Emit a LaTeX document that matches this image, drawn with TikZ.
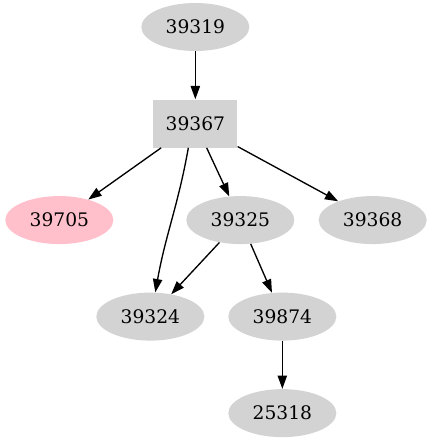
\documentclass[tikz,border=0pt]{standalone}
\usepackage{fontspec}
\setmainfont{DejaVu Serif}
\usepackage{xcolor}
\usepackage{tikz}
\usetikzlibrary{shapes.geometric,arrows.meta,positioning}
\definecolor{nodegray}{HTML}{D3D3D3}
\definecolor{nodepink}{HTML}{FFC0CB}
\tikzset{
  idnode/.style={
    ellipse, draw=none, fill=nodegray,
    minimum width=81pt, minimum height=36pt,
    inner sep=0pt, font=\fontsize{14pt}{16pt}\selectfont},
  idbox/.style={
    rectangle, draw=none, fill=nodegray,
    minimum width=63pt, minimum height=36pt,
    inner sep=0pt, font=\fontsize{14pt}{16pt}\selectfont},
  hitnode/.style={idnode, fill=nodepink},
  myarrow/.style={-{Triangle[length=10pt,width=7pt]}, line width=1pt, draw=black},
}
\begin{document}
\begin{tikzpicture}[node distance=36pt]
  \useasboundingbox (0,0) rectangle (323.25pt,-332.25pt);
  \node[idnode] (n39319) at (146.5pt,-20.25pt) {39319};
  \node[idbox, below=of n39319] (n39367) {39367};
  \node[hitnode, below=of n39367, xshift=-102pt] (n39705) {39705};
  \node[idnode, below=of n39367, xshift=33.75pt] (n39325) {39325};
  \node[idnode, below=of n39367, xshift=133pt] (n39368) {39368};
  \node[idnode, below=of n39325, xshift=-67.5pt] (n39324) {39324};
  \node[idnode, below=of n39325, xshift=31.5pt] (n39874) {39874};
  \node[idnode, below=of n39874] (n25318) {25318};
  \draw[myarrow] (n39319) -- (n39367);
  \draw[myarrow] (n39367) -- (n39705);
  \draw[myarrow] (n39367) -- (n39325);
  \draw[myarrow] (n39367) -- (n39368);
  \coordinate (c1) at ([xshift=-5.25pt]n39367.south);
  \coordinate (c2) at ([xshift=3.75pt]n39324.north);
  \draw[myarrow] (c1) to[out=-100,in=80] (c2);
  \draw[myarrow] (n39325) -- (n39324);
  \draw[myarrow] (n39325) -- (n39874);
  \draw[myarrow] (n39874) -- (n25318);
\end{tikzpicture}
\end{document}
